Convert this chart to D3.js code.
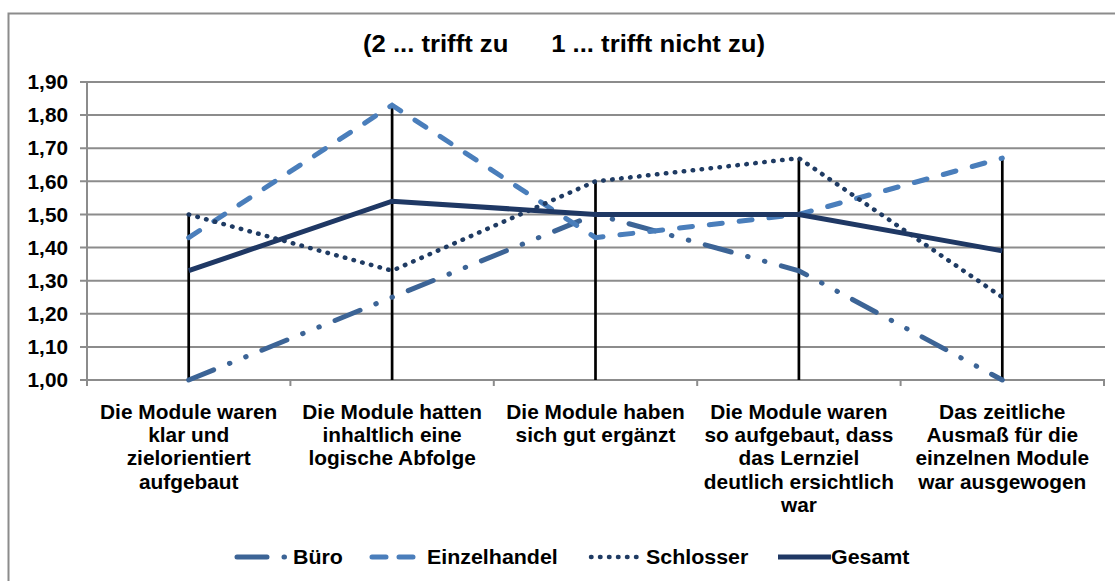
<!DOCTYPE html>
<html>
<head>
<meta charset="utf-8">
<script src="https://cdn.jsdelivr.net/npm/d3@7"></script>
<style>
  body { margin: 0; background: #fff; }
  svg { font-family: "Liberation Sans", Arial, sans-serif; font-weight: bold; }
</style>
</head>
<body>
<div id="chart"></div>
<script>
// Daten
var categories = [
  ["Die Module waren", "klar und", "zielorientiert", "aufgebaut"],
  ["Die Module hatten", "inhaltlich eine", "logische Abfolge"],
  ["Die Module haben", "sich gut ergänzt"],
  ["Die Module waren", "so aufgebaut, dass", "das Lernziel", "deutlich ersichtlich", "war"],
  ["Das zeitliche", "Ausmaß für die", "einzelnen Module", "war ausgewogen"]
];
var seriesNames = ["Büro", "Einzelhandel", "Schlosser", "Gesamt"];
var bueroValues = [1.00, 1.25, 1.50, 1.33, 1.00];
var einzelhandelValues = [1.43, 1.83, 1.43, 1.50, 1.67];
var schlosserValues = [1.50, 1.33, 1.60, 1.67, 1.25];
var gesamtValues = [1.33, 1.54, 1.50, 1.50, 1.39];
var yTicks = [1.0, 1.1, 1.2, 1.3, 1.4, 1.5, 1.6, 1.7, 1.8, 1.9];
var title = "(2 ... trifft zu      1 ... trifft nicht zu)";

var width = 1115, height = 581;
var stretch = 1.07; // Text ist im Original etwas breit gezogen
var svg = d3.select("#chart").append("svg")
  .attr("width", width)
  .attr("height", height);

// Rahmen
svg.append("rect")
  .attr("x", 8.5).attr("y", 13.5)
  .attr("width", 1120).attr("height", 600)
  .attr("fill", "none")
  .attr("stroke", "#8c8c8c")
  .attr("stroke-width", 2);

var plot = { left: 87, right: 1104, top: 82, bottom: 380 };

var x = d3.scaleBand()
  .domain(d3.range(categories.length))
  .range([plot.left, plot.right])
  .padding(0);
var y = d3.scaleLinear()
  .domain([1.0, 1.9])
  .range([plot.bottom, plot.top]);
function cx(i) { return x(i) + x.bandwidth() / 2; }

// Titel
svg.append("text")
  .attr("transform", "translate(564,52) scale(" + stretch + ",1)")
  .attr("text-anchor", "middle")
  .attr("font-size", 24)
  .style("white-space", "pre")
  .text(title);

// Gitterlinien
svg.append("g").selectAll("line")
  .data(yTicks)
  .enter().append("line")
  .attr("x1", plot.left - 7).attr("x2", plot.right + 1)
  .attr("y1", function(d) { return y(d); })
  .attr("y2", function(d) { return y(d); })
  .attr("stroke", "#8c8c8c")
  .attr("stroke-width", 2);

// y-Achse
svg.append("line")
  .attr("x1", plot.left).attr("x2", plot.left)
  .attr("y1", plot.top).attr("y2", plot.bottom)
  .attr("stroke", "#8c8c8c").attr("stroke-width", 2);

svg.append("g").selectAll("text")
  .data(yTicks)
  .enter().append("text")
  .attr("transform", function(d) { return "translate(68," + y(d) + ") scale(1.04,1)"; })
  .attr("dy", "0.36em")
  .attr("text-anchor", "end")
  .attr("font-size", 20)
  .text(function(d) { return d3.format(".2f")(d).replace(".", ","); });

// x-Achse Ticks
var bounds = d3.range(categories.length + 1).map(function(i) {
  return i < categories.length ? x(i) : x(i - 1) + x.bandwidth();
});
svg.append("g").selectAll("line")
  .data(bounds)
  .enter().append("line")
  .attr("x1", function(d) { return d; })
  .attr("x2", function(d) { return d; })
  .attr("y1", plot.bottom).attr("y2", plot.bottom + 6)
  .attr("stroke", "#8c8c8c").attr("stroke-width", 2);

// Kategorie-Beschriftungen
var catG = svg.append("g").selectAll("g")
  .data(categories)
  .enter().append("g")
  .attr("transform", function(d, i) { return "translate(" + cx(i) + ",418.5) scale(" + stretch + ",1)"; });
catG.selectAll("text")
  .data(function(d) { return d; })
  .enter().append("text")
  .attr("x", 0)
  .attr("y", function(d, j) { return j * 23.5; })
  .attr("text-anchor", "middle")
  .attr("font-size", 19.5)
  .text(function(d) { return d; });

// Fall-Linien (vom Maximum zur Achse)
var allSeries = [bueroValues, einzelhandelValues, schlosserValues, gesamtValues];
svg.append("g").selectAll("line")
  .data(categories)
  .enter().append("line")
  .attr("x1", function(d, i) { return cx(i); })
  .attr("x2", function(d, i) { return cx(i); })
  .attr("y1", function(d, i) { return y(d3.max(allSeries, function(s) { return s[i]; })); })
  .attr("y2", plot.bottom)
  .attr("stroke", "#000")
  .attr("stroke-width", 2.7);

// Linien
var styles = [
  { color: "#3c6496", dash: "27 17 0.5 17 0.5 17", width: 5, cap: "round" },
  { color: "#4a7ebb", dash: "13 17", width: 5, cap: "round" },
  { color: "#1f3b63", dash: "0.5 8.5", width: 4.5, cap: "round" },
  { color: "#1f3864", dash: null, width: 5, cap: "butt" }
];
var line = d3.line()
  .x(function(d, i) { return cx(i); })
  .y(function(d) { return y(d); });

svg.append("g").selectAll("path")
  .data(allSeries)
  .enter().append("path")
  .attr("d", line)
  .attr("fill", "none")
  .attr("stroke", function(d, i) { return styles[i].color; })
  .attr("stroke-width", function(d, i) { return styles[i].width; })
  .attr("stroke-dasharray", function(d, i) { return styles[i].dash; })
  .attr("stroke-linecap", function(d, i) { return styles[i].cap; });

// Legende
var legendSample = [[237, 286], [372, 417], [591, 637], [778, 831]];
var legendText = [293, 427, 646, 831];
var leg = svg.append("g").selectAll("g")
  .data(seriesNames)
  .enter().append("g");
leg.append("line")
  .attr("x1", function(d, i) { return legendSample[i][0]; })
  .attr("x2", function(d, i) { return legendSample[i][1]; })
  .attr("y1", 557).attr("y2", 557)
  .attr("stroke", function(d, i) { return styles[i].color; })
  .attr("stroke-width", function(d, i) { return styles[i].width; })
  .attr("stroke-dasharray", function(d, i) { return i === 0 ? "30 17 0.5 40" : (i === 1 ? "14 13" : styles[i].dash); })
  .attr("stroke-linecap", function(d, i) { return styles[i].cap; });
leg.append("text")
  .attr("transform", function(d, i) { return "translate(" + legendText[i] + ",564) scale(" + stretch + ",1)"; })
  .attr("font-size", 20)
  .text(function(d) { return d; });
</script>
</body>
</html>
